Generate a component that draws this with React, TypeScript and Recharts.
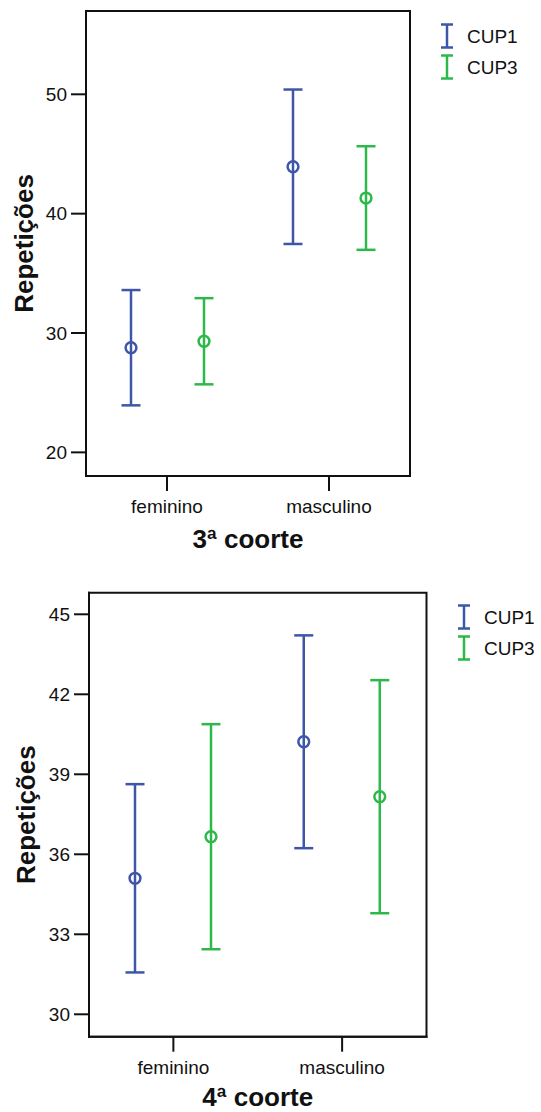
import React from "react";
import { ComposedChart, Bar, ErrorBar, XAxis, YAxis, Legend, ReferenceArea } from "recharts";

const categories = ["feminino", "masculino"];

// 3ª coorte: médias e meia-amplitude do IC
const c3Cup1Mean = [28.77, 43.93];
const c3Cup1Err = [4.83, 6.47];
const c3Cup3Mean = [29.31, 41.31];
const c3Cup3Err = [3.61, 4.34];
const c3Ticks = [20, 30, 40, 50];
const c3Domain = [18.02, 56.98];

// 4ª coorte
const c4Cup1Mean = [35.1, 40.22];
const c4Cup1Err = [3.53, 3.99];
const c4Cup3Mean = [36.66, 38.16];
const c4Cup3Err = [4.22, 4.37];
const c4Ticks = [30, 33, 36, 39, 42, 45];
const c4Domain = [29.16, 45.81];

const BLUE = "#3E56A8";
const GREEN = "#2DB84A";
const INK = "#111";
const FONT = '"Liberation Sans", Arial, Helvetica, sans-serif';

const rows = (m1: number[], e1: number[], m3: number[], e3: number[]) =>
  categories.map((label, i) => ({
    label,
    cup1: m1[i],
    cup1Err: e1[i],
    cup3: m3[i],
    cup3Err: e3[i],
  }));

const MeanMarker = (p: any) => (
  <circle cx={p.x + p.width / 2} cy={p.y} r={5.4} fill="none" stroke={p.color} strokeWidth={2.5} />
);

const YTitle = (p: any) => {
  const vb = p.viewBox || { x: 0, y: 0, height: 0 };
  const x = vb.x + p.baseX;
  const y = vb.y + vb.height / 2;
  return (
    <text x={x} y={y} transform={`rotate(-90 ${x} ${y})`} textAnchor="middle" fontSize={26} fontWeight="bold" fill={INK}>
      Repetições
    </text>
  );
};

const XTitle = (p: any) => {
  const vb = p.viewBox || { x: 0, y: 0, width: 0 };
  return (
    <text x={vb.x + vb.width / 2} y={vb.y + p.baseY} textAnchor="middle" fontSize={26} fontWeight="bold" fill={INK}>
      {p.text}
    </text>
  );
};

const LegendContent = ({ payload }: any) => (
  <svg width={100} height={72}>
    {(payload || []).map((item: any, i: number) => {
      const cy = 16 + i * 31;
      return (
        <g key={item.value} stroke={item.color} strokeWidth={2.5}>
          <line x1={12} x2={12} y1={cy - 11.5} y2={cy + 11.5} />
          <line x1={6} x2={18} y1={cy - 11.5} y2={cy - 11.5} />
          <line x1={6} x2={18} y1={cy + 11.5} y2={cy + 11.5} />
          <text x={32} y={cy + 6.8} fontSize={19} fill={INK} stroke="none">
            {item.value}
          </text>
        </g>
      );
    })}
  </svg>
);

type PanelProps = {
  data: any[];
  ticks: number[];
  domain: number[];
  title: string;
  height: number;
  margin: { top: number; right: number; bottom: number; left: number };
  yAxisWidth: number;
  xAxisHeight: number;
  barGap: number;
  yTitleX: number;
  xTitleY: number;
  legendPos: { left: number; top: number };
};

function Panel(props: PanelProps) {
  const frame = { stroke: INK, strokeWidth: 2, strokeLinecap: "square" as const };
  return (
    <ComposedChart width={541} height={props.height} data={props.data} margin={props.margin} barGap={props.barGap}>
      <XAxis
        dataKey="label"
        height={props.xAxisHeight}
        interval={0}
        tickSize={15}
        tickMargin={9}
        axisLine={frame}
        tickLine={{ stroke: INK, strokeWidth: 2 }}
        tick={{ fontSize: 19, fill: INK }}
        label={(p: any) => <XTitle {...p} text={props.title} baseY={props.xTitleY} />}
      />
      <YAxis
        type="number"
        domain={props.domain}
        ticks={props.ticks}
        allowDataOverflow
        width={props.yAxisWidth}
        tickSize={15}
        tickMargin={4}
        axisLine={frame}
        tickLine={{ stroke: INK, strokeWidth: 2 }}
        tick={{ fontSize: 19, fill: INK }}
        label={(p: any) => <YTitle {...p} baseX={props.yTitleX} />}
      />
      {/* box round the plot area */}
      <ReferenceArea
        y1={props.domain[0]}
        y2={props.domain[1]}
        fill="none"
        fillOpacity={0}
        stroke={INK}
        strokeWidth={2}
        ifOverflow="visible"
      />
      <Legend
        layout="horizontal"
        align="center"
        verticalAlign="middle"
        content={<LegendContent />}
        wrapperStyle={{ left: props.legendPos.left, top: props.legendPos.top, width: 100 }}
      />
      <Bar dataKey="cup1" name="CUP1" fill={BLUE} barSize={20} isAnimationActive={false}
        shape={(p: any) => <MeanMarker {...p} color={BLUE} />}>
        <ErrorBar dataKey="cup1Err" direction="y" width={9.5} stroke={BLUE} strokeWidth={2.5} isAnimationActive={false} />
      </Bar>
      <Bar dataKey="cup3" name="CUP3" fill={GREEN} barSize={20} isAnimationActive={false}
        shape={(p: any) => <MeanMarker {...p} color={GREEN} />}>
        <ErrorBar dataKey="cup3Err" direction="y" width={9.5} stroke={GREEN} strokeWidth={2.5} isAnimationActive={false} />
      </Bar>
    </ComposedChart>
  );
}

export default function App() {
  return (
    <div style={{ position: "absolute", left: 0, top: 0, width: 541, height: 1112, background: "#fff", fontFamily: FONT }}>
      <div style={{ position: "absolute", left: 0, top: 0 }}>
        <Panel
          data={rows(c3Cup1Mean, c3Cup1Err, c3Cup3Mean, c3Cup3Err)}
          ticks={c3Ticks}
          domain={c3Domain}
          title="3ª coorte"
          height={580}
          margin={{ top: 11, right: 131, bottom: 0, left: 0 }}
          yAxisWidth={86}
          xAxisHeight={104}
          barGap={53}
          yTitleX={33}
          xTitleY={71.5}
          legendPos={{ left: 435, top: 19.5 }}
        />
      </div>
      <div style={{ position: "absolute", left: 0, top: 580 }}>
        <Panel
          data={rows(c4Cup1Mean, c4Cup1Err, c4Cup3Mean, c4Cup3Err)}
          ticks={c4Ticks}
          domain={c4Domain}
          title="4ª coorte"
          height={532}
          margin={{ top: 12.7, right: 114.5, bottom: 0, left: 0 }}
          yAxisWidth={89}
          xAxisHeight={75.3}
          barGap={56}
          yTitleX={35}
          xTitleY={69.5}
          legendPos={{ left: 452.3, top: 21 }}
        />
      </div>
    </div>
  );
}
